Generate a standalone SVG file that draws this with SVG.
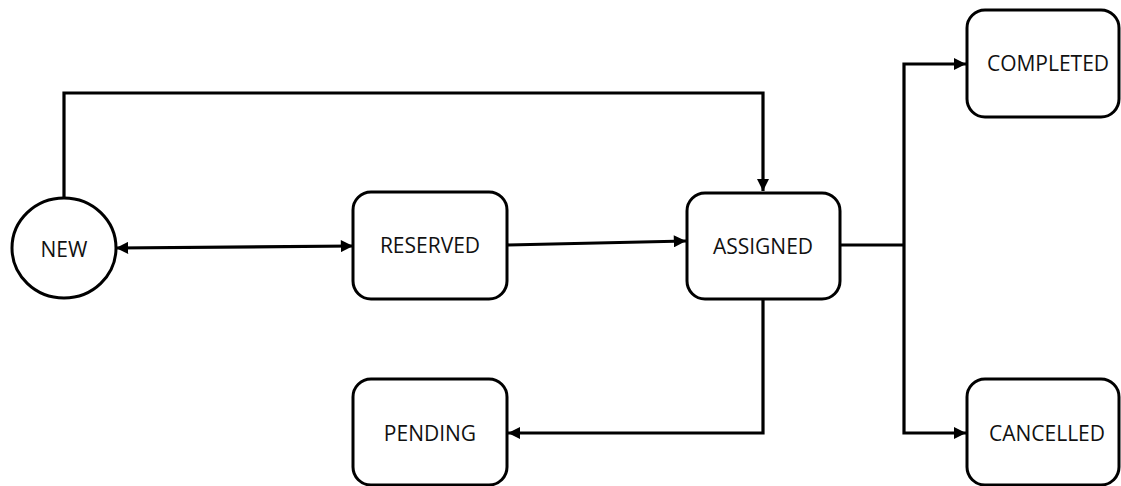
<svg xmlns="http://www.w3.org/2000/svg" width="1121" height="486" viewBox="0 0 1121 486">
  <style>
    .node { fill: #ffffff; stroke: #000000; stroke-width: 3; }
    .label { font-family: "Open Sans", "Liberation Sans", sans-serif; font-size: 21px; fill: #111111; text-anchor: middle; dominant-baseline: central; }
    .edge { fill: none; stroke: #000000; stroke-width: 3.2; }
  </style>
  <defs>
    <marker id="arrow" viewBox="0 0 10 10" refX="10" refY="5" markerWidth="4" markerHeight="3.8" orient="auto-start-reverse" markerUnits="strokeWidth">
      <path d="M0,0 L10,5 L0,10 Z" fill="#000000"/>
    </marker>
  </defs>

  <rect width="1121" height="486" fill="#ffffff"/>

  <g id="connectors">
    <!-- NEW <-> RESERVED -->
    <path class="edge" d="M116,248 L353,246" marker-start="url(#arrow)" marker-end="url(#arrow)"/>
    <!-- RESERVED -> ASSIGNED -->
    <path class="edge" d="M507,245 L686,241" marker-end="url(#arrow)"/>
    <!-- NEW -> ASSIGNED (over the top) -->
    <path class="edge" d="M64,198 L64,93 L763,93 L763,191" marker-end="url(#arrow)"/>
    <!-- ASSIGNED -> PENDING -->
    <path class="edge" d="M763,299 L763,433 L508,433" marker-end="url(#arrow)"/>
    <!-- ASSIGNED -> COMPLETED / CANCELLED -->
    <path class="edge" d="M840,245 L904,245"/>
    <path class="edge" d="M904,245 L904,64 L966,64" marker-end="url(#arrow)"/>
    <path class="edge" d="M904,245 L904,433 L966,433" marker-end="url(#arrow)"/>
  </g>

  <g id="node-new">
    <ellipse class="node" cx="64" cy="248" rx="52" ry="50"/>
    <text class="label" x="64" y="249">NEW</text>
  </g>
  <g id="node-reserved">
    <rect class="node" x="353" y="192" width="154" height="107" rx="18"/>
    <text class="label" x="430" y="245">RESERVED</text>
  </g>
  <g id="node-assigned">
    <rect class="node" x="687" y="193" width="153" height="106" rx="18"/>
    <text class="label" x="763" y="246">ASSIGNED</text>
  </g>
  <g id="node-pending">
    <rect class="node" x="353" y="379" width="154" height="106" rx="18"/>
    <text class="label" x="430" y="433">PENDING</text>
  </g>
  <g id="node-completed">
    <rect class="node" x="967" y="10" width="152" height="107" rx="18"/>
    <text class="label" x="1048" y="63">COMPLETED</text>
  </g>
  <g id="node-cancelled">
    <rect class="node" x="967" y="379" width="152" height="106" rx="18"/>
    <text class="label" x="1047" y="433">CANCELLED</text>
  </g>
</svg>
